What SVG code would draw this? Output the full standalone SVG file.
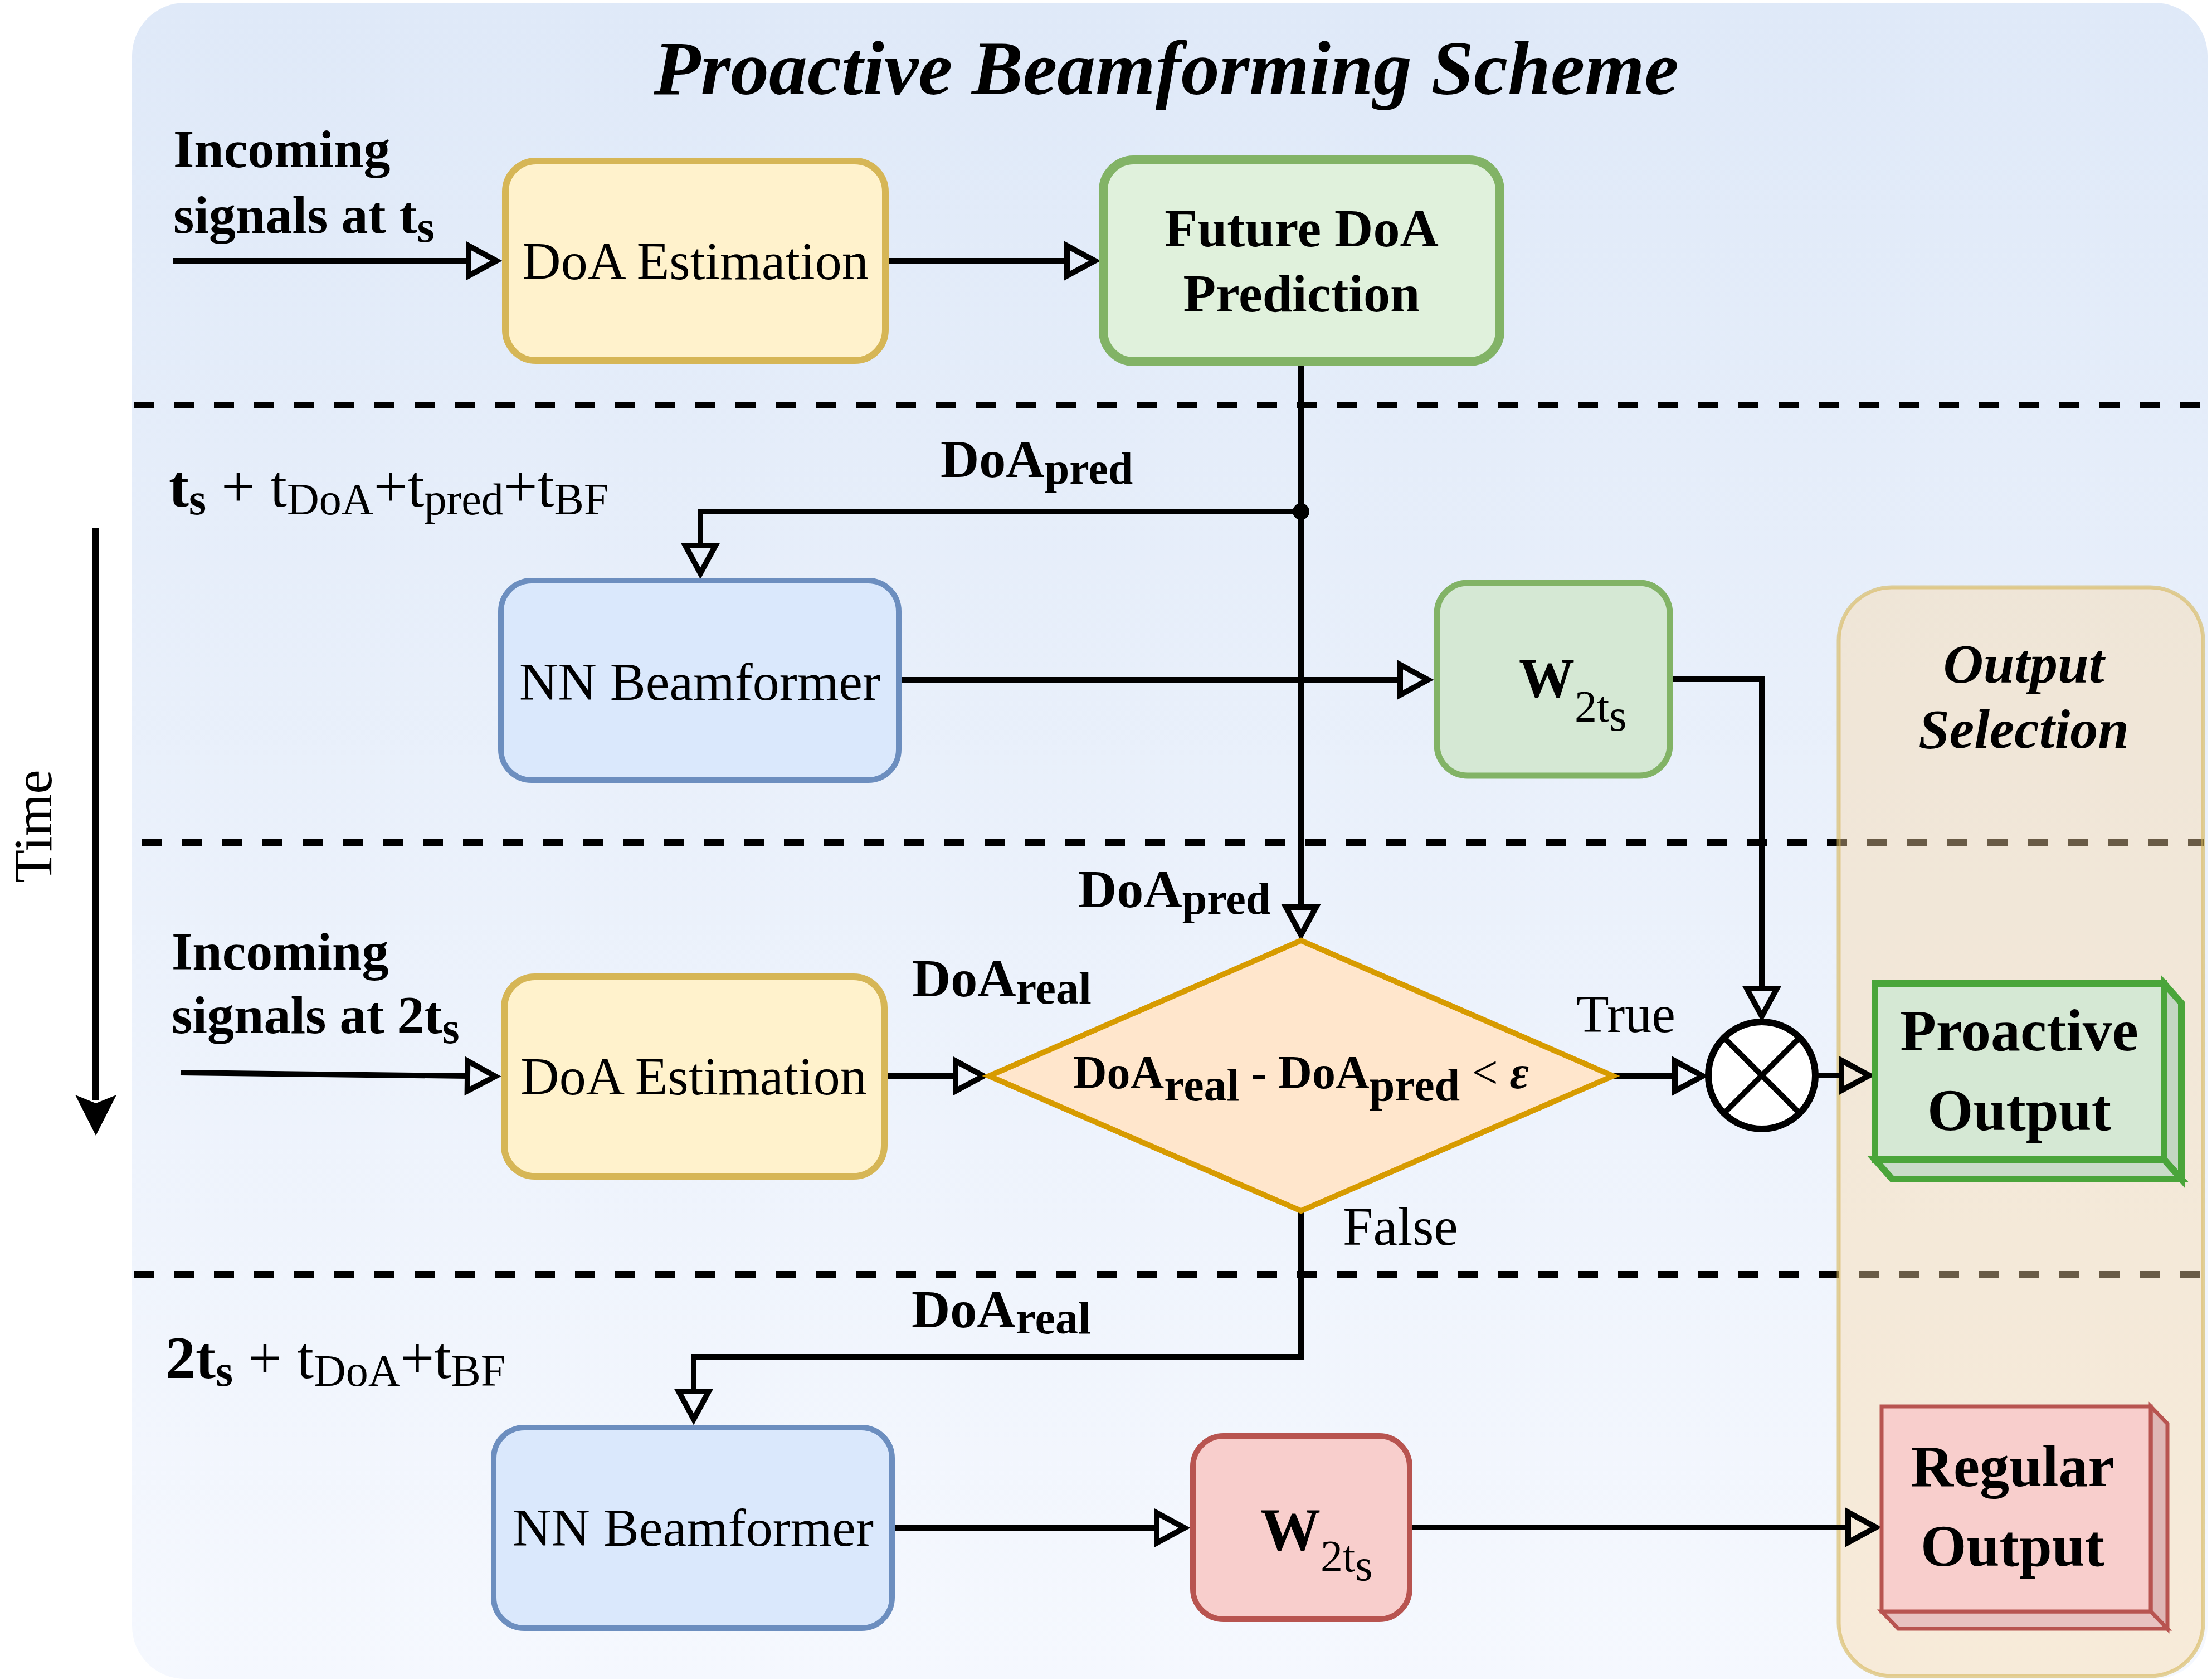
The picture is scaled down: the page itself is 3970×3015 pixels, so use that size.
<svg xmlns="http://www.w3.org/2000/svg" width="3970" height="3015" viewBox="0 0 3970 3015">
<defs>
  <linearGradient id="bg" x1="0" y1="0" x2="0" y2="1">
    <stop offset="0" stop-color="#dfe9f8"/>
    <stop offset="1" stop-color="#f5f8fe"/>
  </linearGradient>
  <marker id="open" markerUnits="userSpaceOnUse" viewBox="-10 -40 80 80" markerWidth="80" markerHeight="80" refX="0" refY="0" orient="auto" overflow="visible">
    <path d="M0,-27 L50,0 L0,27 Z" fill="none" stroke="#000" stroke-width="10" stroke-linejoin="miter"/>
  </marker>
  <style>
    text { font-family: "Liberation Serif", "Times New Roman", serif; fill: #000; }
    .b { font-weight: bold; }
    .bi { font-weight: bold; font-style: italic; }
    .n { font-size: 96px; }
    .c { text-anchor: middle; }
    .conn { fill: none; stroke: #000; stroke-width: 10; marker-end: url(#open); }
    .yel { fill: #fff2cc; stroke: #d6b656; stroke-width: 12; }
    .blu { fill: #dae8fc; stroke: #6c8ebf; stroke-width: 10; }
    .grn { fill: #d5e8d4; stroke: #82b366; stroke-width: 11; }
    .red { fill: #f8cecc; stroke: #b85450; stroke-width: 10; }
  </style>
</defs>

<g id="panel">
  <rect x="237" y="5" width="3725" height="3008" rx="95" ry="95" fill="url(#bg)"/>
  <text x="2093" y="169" class="bi c" font-size="138">Proactive Beamforming Scheme</text>
</g>

<g id="separators" stroke="#000" stroke-width="12" stroke-dasharray="36 36" fill="none">
  <line x1="240" y1="727" x2="3955" y2="727"/>
  <line x1="255" y1="1512" x2="3955" y2="1512"/>
  <line x1="240" y1="2287" x2="3955" y2="2287"/>
</g>

<g id="output-selection">
  <rect x="3300" y="1054" width="654" height="1954" rx="95" ry="95" fill="#fbd9a6" fill-opacity="0.42" stroke="#d6b656" stroke-opacity="0.6" stroke-width="7"/>
  <text x="3632" y="1225" class="bi c" font-size="100">Output</text>
  <text x="3632" y="1342" class="bi c" font-size="100">Selection</text>
</g>

<g id="time-axis">
  <line x1="172" y1="948" x2="172" y2="1975" stroke="#000" stroke-width="12"/>
  <polygon points="172,2038 135,1965 172,1980 209,1965" fill="#000"/>
  <text transform="translate(92,1483) rotate(-90)" class="c" font-size="98">Time</text>
</g>

<g id="connectors">
  <path class="conn" d="M310,468 H841"/>
  <path class="conn" d="M1595,468 H1915"/>
  <path class="conn" d="M2335,655 V1628"/>
  <path class="conn" d="M2335,918 H1257 V979"/>
  <circle cx="2335" cy="918" r="15" fill="#000"/>
  <path class="conn" d="M1618,1220 H2513"/>
  <path class="conn" d="M3002,1219 H3162 V1774"/>
  <path class="conn" d="M324,1925 L839,1931"/>
  <path class="conn" d="M1593,1931 H1715"/>
  <path class="conn" d="M2895,1931 H3006"/>
  <path class="conn" d="M3258,1930 H3305"/>
  <path class="conn" d="M2335,2173 V2435 H1245 V2497"/>
  <path class="conn" d="M1606,2742 H2076"/>
  <path class="conn" d="M2535,2741 H3317"/>
</g>

<g id="labels">
  <text x="311" y="300" class="b n">Incoming</text>
  <text x="311" y="418" class="b n">signals at t<tspan font-size="80" dy="16">s</tspan></text>
  <text x="303" y="909" font-size="108"><tspan class="b">t</tspan><tspan class="b" font-size="80" dy="14">s</tspan><tspan dy="-14"> + t</tspan><tspan font-size="80" dy="14">DoA</tspan><tspan dy="-14">+t</tspan><tspan font-size="80" dy="14">pred</tspan><tspan dy="-14">+t</tspan><tspan font-size="80" dy="14">BF</tspan></text>
  <text x="1688" y="856" class="b n">DoA<tspan font-size="80" dy="12">pred</tspan></text>
  <text x="1935" y="1628" class="b n">DoA<tspan font-size="80" dy="12">pred</tspan></text>
  <text x="1637" y="1788" class="b n">DoA<tspan font-size="82" dy="13">real</tspan></text>
  <text x="308" y="1740" class="b n">Incoming</text>
  <text x="308" y="1854" class="b n">signals at 2t<tspan font-size="80" dy="18">s</tspan></text>
  <text x="2829" y="1852" class="n">True</text>
  <text x="2410" y="2234" font-size="98">False</text>
  <text x="1636" y="2382" class="b n">DoA<tspan font-size="82" dy="11">real</tspan></text>
  <text x="297" y="2473" font-size="108"><tspan class="b">2t</tspan><tspan class="b" font-size="80" dy="14">s</tspan><tspan dy="-14"> + t</tspan><tspan font-size="80" dy="14">DoA</tspan><tspan dy="-14">+t</tspan><tspan font-size="80" dy="14">BF</tspan></text>
</g>

<g id="doa-estimation-1">
  <rect x="907" y="289" width="682" height="358" rx="55" ry="55" class="yel"/>
  <text x="1248" y="501" class="n c">DoA Estimation</text>
</g>

<g id="future-doa-prediction">
  <rect x="1980" y="287" width="712" height="362" rx="55" ry="55" fill="#e0f1dc" stroke="#82b366" stroke-width="16"/>
  <text x="2336" y="442" class="b n c">Future DoA</text>
  <text x="2336" y="559" class="b n c">Prediction</text>
</g>

<g id="nn-beamformer-1">
  <rect x="899" y="1042" width="714" height="358" rx="55" ry="55" class="blu"/>
  <text x="1256" y="1256" class="n c">NN Beamformer</text>
</g>

<g id="w-proactive">
  <rect x="2579" y="1046" width="418" height="346" rx="55" ry="55" class="grn"/>
  <text x="2726" y="1250" class="b" font-size="100">W<tspan font-weight="normal" font-size="80" dy="45">2t</tspan><tspan font-weight="normal" font-size="80" dy="16">s</tspan></text>
</g>

<g id="doa-estimation-2">
  <rect x="905" y="1753" width="682" height="358" rx="55" ry="55" class="yel"/>
  <text x="1245" y="1964" class="n c">DoA Estimation</text>
</g>

<g id="decision">
  <polygon points="1775,1931 2335,1688 2895,1931 2335,2173" fill="#ffe6cc" stroke="#d79b00" stroke-width="10" stroke-linejoin="miter"/>
  <text x="2335" y="1953" class="b c" font-size="84">DoA<tspan font-size="82" dy="22">real</tspan><tspan dy="-22"> - DoA</tspan><tspan font-size="82" dy="22">pred</tspan><tspan dy="-22" font-weight="normal"> &lt; </tspan><tspan font-style="italic">ε</tspan></text>
</g>

<g id="switch">
  <circle cx="3162" cy="1930" r="96" fill="#fff" stroke="#000" stroke-width="12"/>
  <line x1="3094" y1="1862" x2="3230" y2="1998" stroke="#000" stroke-width="10"/>
  <line x1="3230" y1="1862" x2="3094" y2="1998" stroke="#000" stroke-width="10"/>
</g>

<g id="proactive-output">
  <polygon points="3884,1765 3915,1800 3915,2116 3884,2081" fill="#c3d6c2" stroke="#4aa53a" stroke-width="12" stroke-linejoin="miter"/>
  <polygon points="3365,2081 3884,2081 3915,2116 3396,2116" fill="#c9dcc8" stroke="#4aa53a" stroke-width="12" stroke-linejoin="miter"/>
  <rect x="3365" y="1765" width="519" height="316" fill="#d5e8d4" stroke="#4aa53a" stroke-width="12"/>
  <text x="3624" y="1885" class="b c" font-size="106">Proactive</text>
  <text x="3624" y="2028" class="b c" font-size="106">Output</text>
</g>

<g id="nn-beamformer-2">
  <rect x="886" y="2562" width="715" height="360" rx="55" ry="55" class="blu"/>
  <text x="1244" y="2774" class="n c">NN Beamformer</text>
</g>

<g id="w-regular">
  <rect x="2141" y="2577" width="389" height="329" rx="55" ry="55" class="red"/>
  <text x="2262" y="2781" class="b" font-size="108">W<tspan font-weight="normal" font-size="80" dy="39">2t</tspan><tspan font-weight="normal" font-size="80" dy="16">s</tspan></text>
</g>

<g id="regular-output">
  <polygon points="3860,2524 3890,2555 3890,2923 3860,2892" fill="#dfb7b5" stroke="#b85450" stroke-width="7" stroke-linejoin="miter"/>
  <polygon points="3377,2892 3860,2892 3890,2923 3407,2923" fill="#e8c2c0" stroke="#b85450" stroke-width="7" stroke-linejoin="miter"/>
  <rect x="3377" y="2524" width="483" height="368" fill="#f8cecc" stroke="#b85450" stroke-width="7"/>
  <text x="3612" y="2667" class="b c" font-size="106">Regular</text>
  <text x="3612" y="2810" class="b c" font-size="106">Output</text>
</g>
</svg>
